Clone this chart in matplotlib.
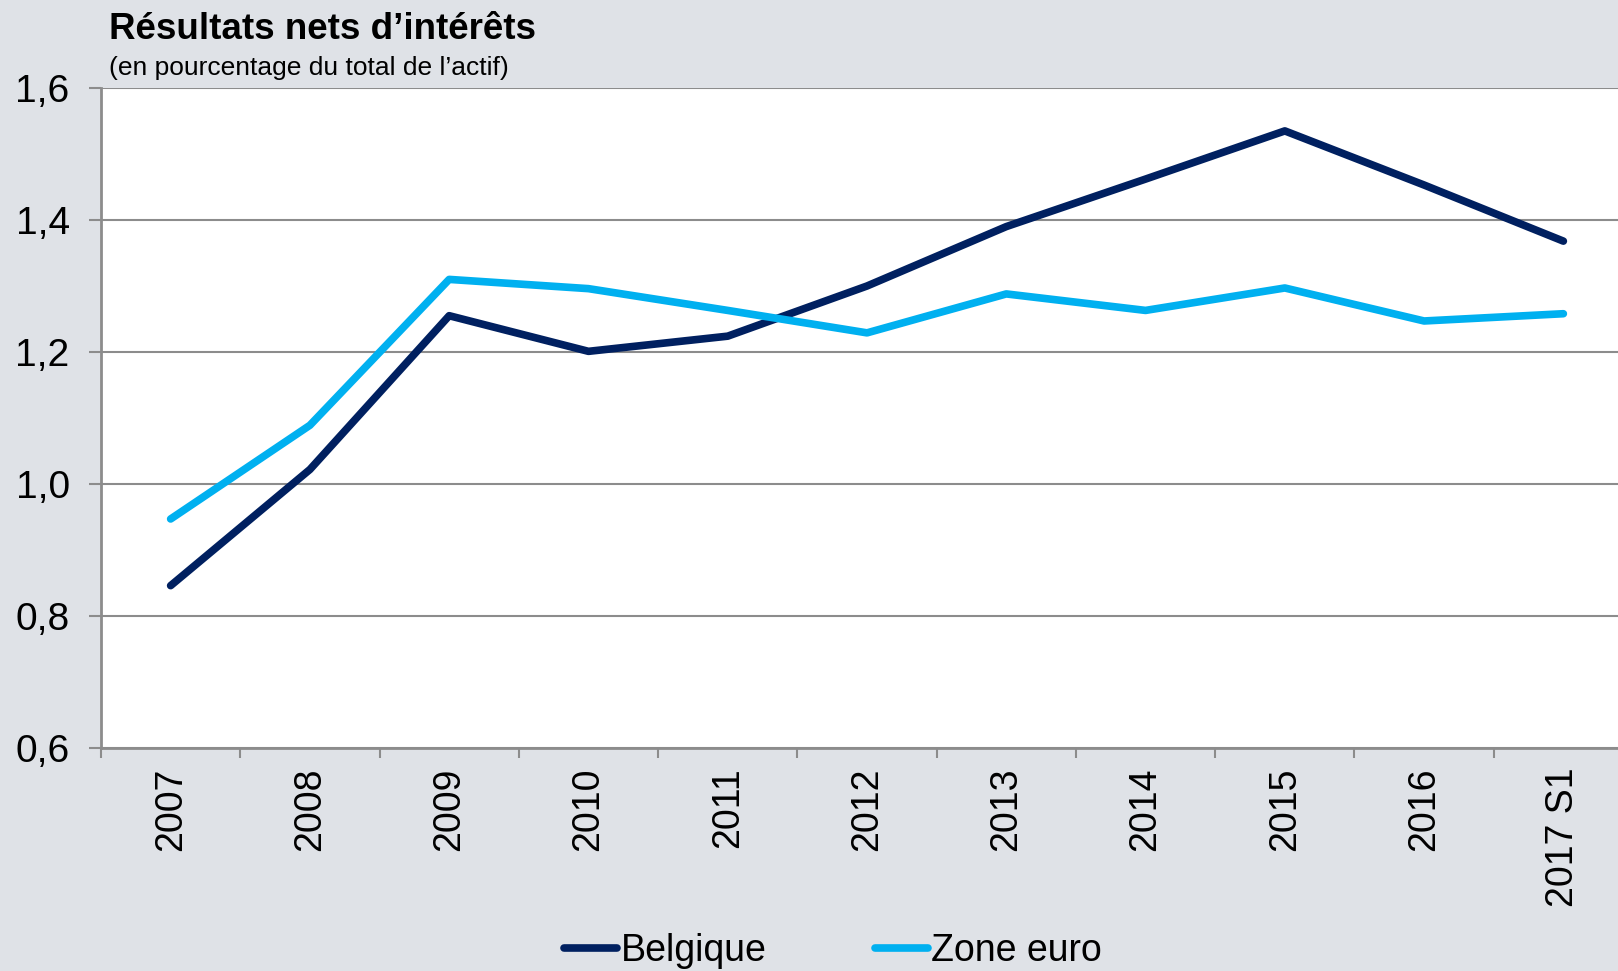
import numpy as np
import matplotlib.pyplot as plt

plt.rcParams['font.family'] = ['Liberation Sans', 'DejaVu Sans']

# Données
annees = ['2007', '2008', '2009', '2010', '2011', '2012', '2013', '2014', '2015', '2016', '2017 S1']
belgique = [0.846, 1.022, 1.255, 1.201, 1.224, 1.300, 1.390, 1.462, 1.535, 1.453, 1.368]
zone_euro = [0.947, 1.089, 1.310, 1.296, 1.263, 1.229, 1.288, 1.263, 1.297, 1.247, 1.258]
yticks = [0.6, 0.8, 1.0, 1.2, 1.4, 1.6]

fond = '#dfe2e7'
gris = '#8c8c8c'

fig = plt.figure(figsize=(16.18, 9.71), dpi=100, facecolor=fond)
# l'axe dépasse légèrement à droite (coupé comme dans l'original)
ax = fig.add_axes([101 / 1618, 1 - 748 / 971, (1633 - 101) / 1618, (748 - 88) / 971])
ax.set_facecolor('white')

x = np.arange(len(annees))
ax.plot(x, belgique, color='#002060', lw=5.5, solid_capstyle='round', solid_joinstyle='round',
        label='Belgique', zorder=3)
ax.plot(x, zone_euro, color='#00b0f0', lw=5.5, solid_capstyle='round', solid_joinstyle='round',
        label='Zone euro', zorder=3)

ax.set_xlim(-0.5, len(annees) - 0.5)
ax.set_ylim(0.6, 1.6)
ax.set_yticks(yticks)
ax.set_yticklabels([f'{v:.1f}'.replace('.', ',') for v in yticks], fontsize=28)
ax.yaxis.grid(True, color=gris, lw=1.5)
ax.set_axisbelow(True)

ax.set_xticks(x)
ax.set_xticklabels(annees, rotation=90, fontsize=27, va='top')
ax.set_xticks(np.arange(-0.5, len(annees)), minor=True)
ax.tick_params(axis='x', which='major', length=0, pad=14)
ax.tick_params(axis='x', which='minor', length=7, width=1.5, color=gris)
ax.tick_params(axis='y', length=8.5, width=1.5, color=gris, pad=14)

for s in ['top', 'right']:
    ax.spines[s].set_visible(False)
for s in ['left', 'bottom']:
    ax.spines[s].set_color(gris)
    ax.spines[s].set_linewidth(2)

fig.text(109 / 1618, 1 - 39 / 971, 'Résultats nets d’intérêts', fontsize=26.5, fontweight='bold',
         va='baseline', ha='left')
fig.text(109 / 1618, 1 - 75 / 971, '(en pourcentage du total de l’actif)', fontsize=19,
         va='baseline', ha='left')

leg = fig.legend(loc='center', bbox_to_anchor=(0.515, 1 - 951 / 971), ncol=2, frameon=False,
                 fontsize=27, handlelength=1.4, handletextpad=0.1, columnspacing=2.9)
for h in leg.get_lines():
    h.set_solid_capstyle('round')

fig.savefig('out.png', dpi=100, facecolor=fond)
